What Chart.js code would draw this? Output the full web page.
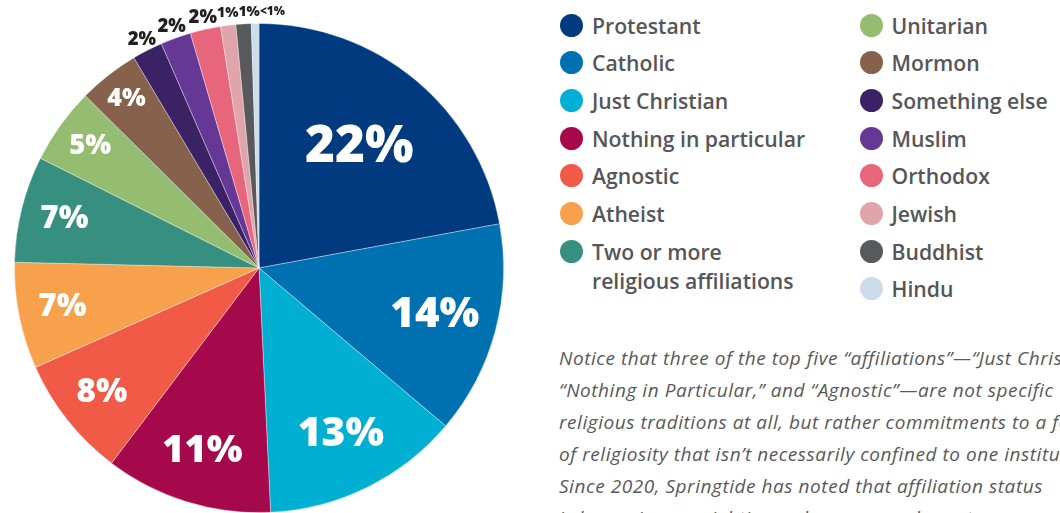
<!DOCTYPE html>
<html>
<head>
<meta charset="utf-8">
<script src="https://cdn.jsdelivr.net/npm/chart.js@4.4.1/dist/chart.umd.min.js"></script>
<style>
  html, body { margin: 0; padding: 0; background: #fff; width: 1060px; height: 513px; overflow: hidden; }
  #pieBox { position: absolute; left: 0; top: 0; width: 520px; height: 513px; }
  #legend { position: absolute; left: 0; top: 0; font-family: "Open Sans", sans-serif; font-weight: 600; font-size: 21.2px; color: #55565a; }
  .item { position: absolute; line-height: 29px; padding-left: 32px; white-space: nowrap; }
  .dot { position: absolute; left: 0; top: 3px; width: 23px; height: 23px; border-radius: 50%; }
  #note { position: absolute; left: 559px; top: 342px; width: 520px; font-family: "Open Sans", sans-serif; font-style: italic; font-size: 19px; letter-spacing: 0.55px; line-height: 32px; color: #58595b; white-space: nowrap; }
</style>
</head>
<body>
<div id="pieBox"><canvas id="pie"></canvas></div>
<div id="legend"></div>
<div id="note">
  Notice that three of the top five “affiliations”—“Just Christian,”<br>
  “Nothing in Particular,” and “Agnostic”—are not specific<br>
  religious traditions at all, but rather commitments to a form<br>
  of religiosity that isn’t necessarily confined to one institution.<br>
  Since 2020, Springtide has noted that affiliation status<br>
  is becoming a weightier and more complex category
</div>
<script>
// affiliations, in drawing order (clockwise from the top)
const categories = [
  'Protestant', 'Catholic', 'Just Christian', 'Nothing in particular', 'Agnostic',
  'Atheist', ['Two or more', 'religious affiliations'], 'Unitarian', 'Mormon',
  'Something else', 'Muslim', 'Orthodox', 'Jewish', 'Buddhist', 'Hindu'
];
// percent of respondents (Hindu is shown as <1%)
const shares = [22, 14, 13, 11, 8, 7, 7, 5, 4, 2, 2, 2, 1, 1, 0.5];
const colors = [
  '#013a7e', '#0071b0', '#00afd1', '#a5094b', '#f05a47',
  '#f8a14c', '#378f7f', '#94bd72', '#86614b', '#3a2264',
  '#653895', '#e8667c', '#e0a4ab', '#58595b', '#cddcea'
];

// percentage labels: big white ones inside, small dark ones outside the rim
const sliceLabels = {
  id: 'sliceLabels',
  afterDatasetsDraw(chart) {
    const ctx = chart.ctx;
    const arcs = chart.getDatasetMeta(0).data;
    ctx.save();
    ctx.textAlign = 'center';
    ctx.textBaseline = 'middle';
    let prevRight = -Infinity; // outside labels get pushed right so they don't collide
    arcs.forEach((arc, i) => {
      const v = shares[i];
      const p = arc.getProps(['x', 'y', 'startAngle', 'endAngle', 'outerRadius'], true);
      const mid = (p.startAngle + p.endAngle) / 2;
      const text = v < 1 ? '<1%' : v + '%';
      let r, size, color;
      if (v >= 4) {
        r = p.outerRadius * (Math.min(0.64 + (22 - v) * 0.013, 0.82) + Math.max(6 - v, 0) * 0.03);
        size = 5.7 + 9.7 * Math.sqrt(v);
        color = '#ffffff';
      } else {
        r = p.outerRadius + 12;
        size = 9.5 + 4.5 * v;
        color = '#231f20';
      }
      ctx.font = '800 ' + size.toFixed(1) + 'px "Open Sans", sans-serif';
      ctx.fillStyle = color;
      let x = p.x + Math.cos(mid) * r;
      const y = p.y + Math.sin(mid) * r;
      if (v < 4) {
        const w = ctx.measureText(text).width;
        if (x - w / 2 < prevRight) x = prevRight + w / 2;
        prevRight = x + w / 2;
      }
      ctx.fillText(text, x, y);
    });
    ctx.restore();
  }
};

new Chart(document.getElementById('pie'), {
  type: 'pie',
  data: {
    labels: categories,
    datasets: [{
      data: shares,
      backgroundColor: colors,
      borderColor: 'rgba(255,255,255,0.45)',
      borderWidth: 0.8
    }]
  },
  options: {
    responsive: true,
    maintainAspectRatio: false,
    animation: false,
    layout: { padding: { top: 23, left: 14, right: 16, bottom: 0 } },
    plugins: { legend: { display: false }, tooltip: { enabled: false } }
  },
  plugins: [sliceLabels]
});

// two-column legend next to the pie
const legend = document.getElementById('legend');
const firstCol = 7;
categories.forEach((name, i) => {
  const col = i < firstCol ? 0 : 1;
  const row = col === 0 ? i : i - firstCol;
  const item = document.createElement('div');
  item.className = 'item';
  item.style.left = (col === 0 ? 560 : 859.5) + 'px';
  item.style.top = (25 + row * 37.7 - 14.5) + 'px';
  const dot = document.createElement('span');
  dot.className = 'dot';
  dot.style.background = colors[i];
  item.appendChild(dot);
  const label = document.createElement('span');
  label.innerHTML = Array.isArray(name) ? name.join('<br>') : name;
  item.appendChild(label);
  legend.appendChild(item);
});
</script>
</body>
</html>
